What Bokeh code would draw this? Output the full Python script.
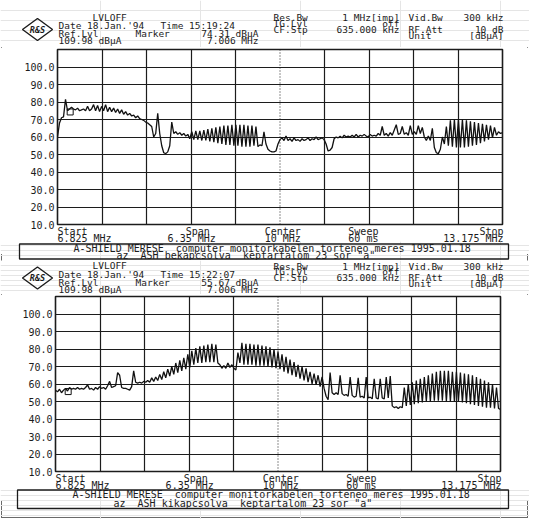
import numpy as np
from bokeh.plotting import figure
from bokeh.layouts import column
from bokeh.models import (Span, Grid, FixedTicker, Range1d, PrintfTickFormatter,
                          CustomJSTickFormatter)
from bokeh.embed import file_html
from bokeh.resources import INLINE
from bokeh.core.properties import value

# ---------------- data ----------------
START_MHZ = 6.825
STOP_MHZ = 13.175
CENTER_MHZ = 10.0
LEVEL_MIN = 10
LEVEL_MAX = 110
level_ticks = [10, 20, 30, 40, 50, 60, 70, 80, 90, 100]
freq_grid = [7.460, 8.095, 8.730, 9.365, 10.635, 11.270, 11.905, 12.540]

marker_freq = 7.006
marker_level_top = 74.31
marker_level_bottom = 55.67

# trace with A-SHIELD switched on (dBuA), equally spaced sweep points
trace_on = [
    60, 68, 71, 71.5, 81.5, 75, 76, 77, 76, 75.5,
    76.5, 75, 75.5, 76, 75, 77.5, 75, 76, 78.5, 75,
    78, 74.5, 77.5, 75, 78.5, 74.5, 77, 74.5, 76.5, 74,
    76, 73.5, 75.5, 73, 74.5, 72.5, 73.5, 72, 72.5, 71,
    72, 70.5, 70, 69.5, 68.5, 68, 67, 66, 60, 62,
    73.5, 62, 55, 51, 50.5, 51.5, 55, 68.5, 62, 63,
    61.5, 62.5, 61, 62, 60.5, 61.5, 59, 63, 58.5, 63.5,
    58.5, 63.5, 58, 64, 58, 64.5, 57.5, 65, 57, 65.5,
    56.5, 66, 56, 66.5, 55.5, 66.5, 55.5, 67, 55, 67,
    55, 67, 54.5, 67, 54.5, 66.5, 54.5, 66.5, 55, 66,
    54.5, 55.5, 55, 63, 56, 53, 52, 51.5, 51.5, 52,
    56, 58.5, 59.5, 58, 60.5, 58, 59, 57.5, 59.5, 58,
    58.5, 57.5, 59, 58, 58.5, 59.5, 58, 59, 58.5, 60,
    58.5, 59, 59.5, 58.5, 56, 52, 52.5, 54, 59, 60,
    59.5, 60.5, 59.5, 61, 60, 60.5, 60, 61, 60, 61.5,
    60, 61, 60.5, 61.5, 60.5, 60, 61.5, 60.5, 61, 60.5,
    62, 61, 66, 61, 62, 60.5, 62.5, 61, 64, 67,
    61.5, 62, 66, 61.5, 62.5, 61, 66.5, 61.5, 63, 61.5,
    66.5, 62, 65.5, 60, 58, 60.5, 58, 65, 54, 51,
    50.5, 53, 60, 56, 66, 55, 69.5, 54.5, 70, 54,
    70, 54, 70, 54, 69.5, 54.5, 69, 55, 68.5, 55.5,
    68, 56.5, 67.5, 57.5, 67, 58.5, 66.5, 59.5, 65.5, 61,
    63, 62, 62.5,
]

# trace with A-SHIELD switched off (dBuA)
trace_off = [
    56.5, 55.5, 57, 55, 56.5, 57.5, 56, 58, 57, 57.5,
    57, 58, 57, 57.5, 57, 58, 59.5, 57, 57.5, 56.5,
    58, 57, 58.5, 57.5, 58, 57, 59, 61.5, 58, 58.5,
    59, 66.5, 65, 58, 57.5, 57.5, 57, 56.5, 58.5, 67.5,
    61, 60.5, 61, 60.5, 61.5, 61, 62, 61, 63.5, 61.5,
    64, 62, 65.5, 62.5, 67, 63.5, 68.5, 64.5, 70, 65.5,
    72, 66.5, 73.5, 67.5, 75, 68.5, 77, 69.5, 79, 71,
    80.5, 72, 81.5, 72, 82, 72.5, 82.5, 72.5, 83, 72.5,
    82.5, 72, 71, 69, 70.5, 69, 72, 69.5, 71, 69,
    68, 78, 72, 83.5, 71, 83, 71, 83, 71, 82.5,
    70.5, 82.5, 70.5, 82, 70.5, 81.5, 70, 81, 69.5, 80,
    69, 78.5, 68.5, 77, 67, 75.5, 66, 74, 65, 72.5,
    64, 71, 63, 70, 62, 69, 61, 67, 60, 66,
    59.5, 65, 58.5, 64, 57.5, 53, 51, 66.5, 55, 54,
    55, 54, 65, 54.5, 53.5, 54, 53, 64, 53.5, 52.5,
    53, 63.5, 52.5, 53, 52, 64, 52, 52.5, 51.5, 63,
    52, 51.5, 63, 52, 51.5, 64, 52, 64.5, 47.5, 46.5,
    47, 46, 47, 46.5, 58, 47.5, 60, 48, 61, 48.5,
    62, 49, 63, 49.5, 64, 50, 65, 50, 66, 50.5,
    67, 50.5, 67.5, 50.5, 67.5, 50, 67.5, 50, 67, 50,
    67, 50, 66.5, 49.5, 66, 49, 65.5, 48.5, 65, 48,
    64, 47.5, 63, 47, 62, 46.5, 61, 46.5, 60, 46,
    58, 46, 45.5,
]

NB = "\u00a0"
# sweep settings shown under each graticule, anchored on the frequency axis
footer_tick_freqs = [7.21, 8.74, 10.04, 11.19, 12.76]
footer_tick_labels = [
    "Start" + NB * 4 + "\n6.825" + NB + "MHz",
    NB * 3 + "Span" + NB + "\n6.35" + NB + "MHz",
    "Center\n10" + NB + "MHz",
    "Sweep\n60" + NB + "ms",
    NB * 6 + "Stop\n13.175" + NB + "MHz",
]

time_top = "Time 15:19:24"
time_bottom = "Time 15:22:07"
marker_text_top = "74.31 dBµA"
marker_text_bottom = "55.67 dBµA"
footer_line1 = "A-SHIELD MERESE" + NB * 2 + "computer monitorkabelen torteneo meres 1995.01.18"
footer_line2_top = "az" + NB * 2 + "ASH bekapcsolva" + NB * 2 + "keptartalom 23 sor \"a\""
footer_line2_bottom = "az" + NB * 2 + "ASH kikapcsolva" + NB * 2 + "keptartalom 23 sor \"a\""

# ---------------- styling / layout ----------------
W = 529
FONT = "DejaVu Sans Mono"
INK = "#1c1c1c"
FS = "10px"
HFS = "9.5px"


def blank(top, h, transparent=False):
    """A figure used as a page strip; its coordinates are page pixels."""
    p = figure(width=W, height=h, output_backend="svg", toolbar_location=None,
               x_range=Range1d(0, W), y_range=Range1d(top + h, top),
               x_axis_location=None, y_axis_location=None,
               min_border=0, frame_align=False,
               background_fill_color=None if transparent else "white",
               border_fill_color=None if transparent else "white")
    p.outline_line_color = None
    return p


def texts(p, xs, ys, ts, align="left", size=FS, style="normal"):
    p.text(x=xs, y=ys, text=ts, text_font=value(FONT), text_font_size=value(size),
           text_color=INK, text_align=align, text_baseline="middle",
           text_font_style=style)


def header(top, h, y0, time_text, marker_text):
    p = blank(top, h)
    L = [y0, y0 + 8.5, y0 + 16.5, y0 + 23.5]
    R = [y0 + 0.5, y0 + 6.3, y0 + 12, y0 + 18]
    texts(p, [92, 58, 160, 58, 135, 58],
          [L[0], L[1], L[1], L[2], L[2], L[3]],
          ["LVLOFF", "Date 18.Jan.'94", time_text, "Ref.Lvl", "Marker", "109.98 dBµA"],
          size=HFS)
    texts(p, [258, 258], [L[2], L[3]], [marker_text, "7.006 MHz"], align="right",
          size=HFS)
    texts(p, [273, 273, 273, 408, 408, 408],
          [R[0], R[1], R[2], R[0], R[2], R[3]],
          ["Res.Bw", "TG.Lvl", "CF.Stp", "Vid.Bw", "RF.Att", "Unit"], size=HFS)
    texts(p, [399, 399, 399, 503, 503, 503],
          [R[0], R[1], R[2], R[0], R[2], R[3]],
          ["1 MHz[imp]", "off", "635.000 kHz", "300 kHz", "10 dB", "[dBµA]"],
          align="right", size=HFS)
    # R&S logo
    cx, cy = 37, y0 + 12.5
    p.patch([cx - 15, cx, cx + 15, cx], [cy, cy - 11, cy, cy + 11],
            fill_color=None, line_color=INK, line_width=1.4)
    texts(p, [cx], [cy], ["R&S"], align="center", size="8.5px", style="bold italic")
    return p


def footer(top, h, box_l, box_t, box_b, y1, x1, y2, x2, line2):
    p = blank(top, h, transparent=True)
    p.margin = (-13, 0, 0, 0)
    p.quad(left=[box_l], right=[508], top=[box_t], bottom=[box_b],
           fill_color=None, line_color=INK, line_width=1.3)
    texts(p, [x1, x2], [y1, y2], [footer_line1, line2])
    return p


def panel(trace, marker_level, left):
    p = figure(frame_width=445, frame_height=175, output_backend="svg",
               toolbar_location=None, frame_align=False,
               x_range=Range1d(START_MHZ, STOP_MHZ), y_range=Range1d(LEVEL_MIN, LEVEL_MAX),
               min_border_left=left, min_border_right=W - 445 - left,
               min_border_top=2, min_border_bottom=30,
               background_fill_color="white", border_fill_color="white")
    p.outline_line_color = INK
    p.outline_line_width = 1.6

    ya = p.yaxis[0]
    ya.ticker = FixedTicker(ticks=level_ticks)
    ya.formatter = PrintfTickFormatter(format="%.1f")
    ya.axis_line_color = None
    ya.major_tick_line_color = None
    ya.minor_tick_line_color = None
    ya.major_tick_out = 0
    ya.major_tick_in = 0
    ya.major_label_standoff = 3
    ya.major_label_text_font = FONT
    ya.major_label_text_font_size = FS
    ya.major_label_text_color = INK

    xa = p.xaxis[0]
    xa.ticker = FixedTicker(ticks=footer_tick_freqs)
    xa.formatter = CustomJSTickFormatter(
        args=dict(pos=footer_tick_freqs, labels=footer_tick_labels),
        code="""
        let best = 0;
        for (let i = 0; i < pos.length; i++) {
            if (Math.abs(pos[i] - tick) < Math.abs(pos[best] - tick)) best = i;
        }
        return labels[best];
        """)
    xa.axis_line_color = None
    xa.major_tick_line_color = None
    xa.minor_tick_line_color = None
    xa.major_tick_out = 0
    xa.major_tick_in = 0
    xa.major_label_standoff = 1
    xa.major_label_text_font = FONT
    xa.major_label_text_font_size = FS
    xa.major_label_text_color = INK
    xa.major_label_text_line_height = 0.7

    p.xgrid.visible = False
    p.ygrid.ticker = FixedTicker(ticks=level_ticks)
    p.ygrid.grid_line_color = INK
    p.ygrid.grid_line_width = 1.2
    p.add_layout(Grid(dimension=0, ticker=FixedTicker(ticks=freq_grid),
                      grid_line_color=INK, grid_line_width=1.2))
    p.add_layout(Span(location=CENTER_MHZ, dimension="height", line_color=INK,
                      line_width=1, line_dash="1 2"))

    freq = np.linspace(START_MHZ, STOP_MHZ, len(trace))
    p.line(freq, trace, line_color="#111111", line_width=1.3)
    p.scatter([marker_freq], [marker_level], marker="square", size=6,
              fill_color=None, line_color="#111111", line_width=1)
    return p


h1 = header(0, 47, 16.5, time_top, marker_text_top)
p1 = panel(trace_on, marker_level_top, 57)
f1 = footer(241, 19, 19, 243.5, 258.5, 247.5, 73, 255.3, 116, footer_line2_top)
h2 = header(260, 34, 265, time_bottom, marker_text_bottom)
p2 = panel(trace_off, marker_level_bottom, 55)
f2 = footer(488, 31, 17, 489.5, 508, 493.5, 72, 502.5, 113, footer_line2_bottom)

layout = column(h1, p1, f1, h2, p2, f2, spacing=0,
                styles={"outline": "1px solid #6a6a6a", "outline-offset": "-2px"})
open("out.html", "w").write(file_html(layout, INLINE))
